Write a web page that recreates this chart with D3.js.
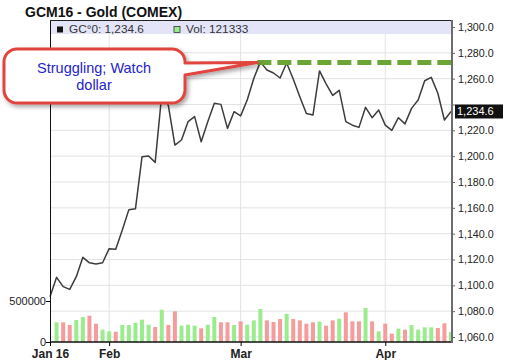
<!DOCTYPE html>
<html>
<head>
<meta charset="utf-8">
<script src="https://cdn.jsdelivr.net/npm/d3@7"></script>
<style>
  body { margin: 0; background: #fff; }
  svg { display: block; font-family: "Liberation Sans", Arial, sans-serif; }
</style>
</head>
<body>
<div id="chart"></div>
<script>
// trading days, Jan 19 - Apr 15 2016
const dates = [
  "2016-01-19","2016-01-20","2016-01-21","2016-01-22","2016-01-25","2016-01-26","2016-01-27","2016-01-28","2016-01-29",
  "2016-02-01","2016-02-02","2016-02-03","2016-02-04","2016-02-05","2016-02-08","2016-02-09","2016-02-10","2016-02-11",
  "2016-02-12","2016-02-16","2016-02-17","2016-02-18","2016-02-19","2016-02-22","2016-02-23","2016-02-24","2016-02-25",
  "2016-02-26","2016-02-29",
  "2016-03-01","2016-03-02","2016-03-03","2016-03-04","2016-03-07","2016-03-08","2016-03-09","2016-03-10","2016-03-11",
  "2016-03-14","2016-03-15","2016-03-16","2016-03-17","2016-03-18","2016-03-21","2016-03-22","2016-03-23","2016-03-24",
  "2016-03-28","2016-03-29","2016-03-30","2016-03-31",
  "2016-04-01","2016-04-04","2016-04-05","2016-04-06","2016-04-07","2016-04-08","2016-04-11","2016-04-12","2016-04-13",
  "2016-04-14","2016-04-15"
];
const closes = [
  1091.2, 1106.2, 1099.0, 1096.9, 1106.7, 1121.7, 1117.4, 1116.6, 1117.5,
  1128.4, 1127.9, 1142.8, 1158.6, 1159.2, 1199.6, 1200.1, 1195.2, 1247.8,
  1239.4, 1208.6, 1212.5, 1226.7, 1230.6, 1211.2, 1226.7, 1240.9, 1240.1,
  1221.5, 1234.4,
  1231.2, 1243.5, 1260.2, 1273.0, 1266.7, 1264.4, 1260.5, 1272.1, 1259.8,
  1246.0, 1233.0, 1231.8, 1266.0, 1256.0, 1247.0, 1251.0, 1226.7, 1224.0,
  1222.3, 1237.8, 1229.8, 1235.7,
  1224.0, 1220.0, 1229.8, 1225.0, 1237.0, 1243.5, 1258.4, 1261.0, 1248.7,
  1228.0, 1234.6
];
const volumes = [
  null, 240000, 240000, 207000, 268000, 305000, 320000, 223000, 150000,
  130000, 126000, 207000, 207000, 235000, 272000, 211000, 183000, 394000,
  207000, 374000, 199000, 211000, 199000, 167000, 211000, 305000, 240000,
  240000, 207000,
  252000, 211000, 264000, 402000, 264000, 244000, 280000, 345000, 280000,
  264000, 223000, 240000, 248000, 199000, 264000, 284000, 362000, 252000,
  252000, 415000, 252000, 130000,
  224000, 102000, 163000, 150000, 207000, 150000, 179000, 179000, 171000,
  228000, 121333
];
const priceTicks = [1060, 1080, 1100, 1120, 1140, 1160, 1180, 1200, 1220, 1240, 1260, 1280, 1300];
const volumeTicks = [0, 500000];
const monthTicks = ["2016-01-19", "2016-02-01", "2016-03-01", "2016-04-01"];
const monthLabels = ["Jan 16", "Feb", "Mar", "Apr"];
const resistanceLevel = 1272.5;
const resistanceStart = "2016-03-04";
const noteLines = ["Struggling; Watch", "dollar"];

const width = 509, height = 360;
const plot = {left: 50, right: 452, top: 20, bottom: 342};
const upColor = '#9bec8f', downColor = '#f59c9c';

const svg = d3.select('#chart').append('svg')
    .attr('width', width)
    .attr('height', height);

const x = d3.scalePoint().domain(dates).range([plot.left, 451]);
const y = d3.scaleLinear().domain([1060, 1300]).range([337, 27]);
const yVol = d3.scaleLinear().domain([0, 500000]).range([plot.bottom, 301]);
const last = closes.length - 1;

// title
svg.append('text')
    .attr('x', 25).attr('y', 17)
    .attr('font-size', 14).attr('font-weight', 'bold').attr('fill', '#111')
    .text('GCM16 - Gold (COMEX)');

// grid
svg.append('g').selectAll('line.h')
    .data(priceTicks)
  .join('line')
    .attr('x1', plot.left).attr('x2', plot.right)
    .attr('y1', d => y(d)).attr('y2', d => y(d))
    .attr('stroke', '#e3e3e3');

svg.append('g').selectAll('line.v')
    .data(monthTicks.slice(1))
  .join('line')
    .attr('x1', d => x(d)).attr('x2', d => x(d))
    .attr('y1', 34).attr('y2', plot.bottom)
    .attr('stroke', '#e3e3e3');

// legend band
svg.append('rect')
    .attr('x', plot.left + 1).attr('y', plot.top + 1)
    .attr('width', plot.right - plot.left - 2).attr('height', 13)
    .attr('fill', '#e4e4f9');

// volume bars
svg.append('g').selectAll('rect')
    .data(volumes.map((v, i) => ({date: dates[i], v, up: i > 0 && closes[i] >= closes[i - 1]})).filter(d => d.v !== null))
  .join('rect')
    .attr('x', d => x(d.date) - 2)
    .attr('width', 4)
    .attr('y', d => yVol(d.v))
    .attr('height', d => plot.bottom - yVol(d.v))
    .attr('fill', d => d.up ? upColor : downColor);

// price line
const line = d3.line()
    .x((d, i) => x(dates[i]))
    .y(d => y(d));

svg.append('path')
    .datum(closes)
    .attr('fill', 'none')
    .attr('stroke', '#3c3c3c')
    .attr('stroke-width', 1.5)
    .attr('stroke-linejoin', 'round')
    .attr('d', line);

// resistance dashes
svg.append('line')
    .attr('x1', x(resistanceStart) - 3).attr('x2', plot.right - 1)
    .attr('y1', y(resistanceLevel)).attr('y2', y(resistanceLevel))
    .attr('stroke', '#6aa536')
    .attr('stroke-width', 5)
    .attr('stroke-dasharray', '14,6');

// axes
const rightAxis = svg.append('g')
    .attr('transform', `translate(${plot.right},0)`)
    .call(d3.axisRight(y).tickValues(priceTicks).tickFormat(d3.format(',.1f')).tickSize(3).tickPadding(3));
rightAxis.select('.domain').remove();
rightAxis.selectAll('line').attr('stroke', '#666');
rightAxis.selectAll('text').attr('font-size', 10.7).attr('fill', '#222').attr('font-family', null);
// the last-price tag hides the tick label it sits on
rightAxis.selectAll('.tick text')
    .filter(d => Math.abs(y(d) - y(closes[last])) < 12)
    .remove();

const leftAxis = svg.append('g')
    .attr('transform', `translate(${plot.left},0)`)
    .call(d3.axisLeft(yVol).tickValues(volumeTicks).tickFormat(d3.format('d')).tickSize(4).tickPadding(0));
leftAxis.select('.domain').remove();
leftAxis.selectAll('text').attr('font-size', 11).attr('fill', '#222').attr('font-family', null);

const bottomAxis = svg.append('g')
    .attr('transform', `translate(0,${plot.bottom})`)
    .call(d3.axisBottom(x).tickValues(monthTicks).tickFormat((d, i) => monthLabels[i]).tickSize(4).tickPadding(3));
bottomAxis.select('.domain').remove();
bottomAxis.selectAll('text').attr('font-size', 12).attr('font-weight', 'bold').attr('fill', '#222').attr('font-family', null);

// frame
svg.append('line')
    .attr('x1', plot.left).attr('x2', plot.right)
    .attr('y1', plot.top + 0.5).attr('y2', plot.top + 0.5)
    .attr('stroke', '#222');
svg.append('line')
    .attr('x1', plot.left).attr('x2', plot.right)
    .attr('y1', plot.bottom).attr('y2', plot.bottom)
    .attr('stroke', '#111').attr('stroke-width', 1.5);
svg.append('line')
    .attr('x1', plot.left + 0.5).attr('x2', plot.left + 0.5)
    .attr('y1', plot.top).attr('y2', plot.bottom)
    .attr('stroke', '#111');
svg.append('line')
    .attr('x1', plot.right).attr('x2', plot.right)
    .attr('y1', plot.top).attr('y2', plot.bottom + 1)
    .attr('stroke', '#6d6d6d').attr('stroke-width', 2);

// legend
svg.append('rect').attr('x', 57).attr('y', 26.5).attr('width', 6).attr('height', 6).attr('fill', '#111');
svg.append('text')
    .attr('x', 69).attr('y', 32.5)
    .attr('font-size', 11.8).attr('fill', '#333')
    .text(`GC°0: ${d3.format(',.1f')(closes[last])}`);
svg.append('rect').attr('x', 174).attr('y', 26.5).attr('width', 6).attr('height', 6)
    .attr('fill', upColor).attr('stroke', '#333').attr('stroke-width', 0.8);
svg.append('text')
    .attr('x', 186).attr('y', 32.5)
    .attr('font-size', 11.8).attr('fill', '#333')
    .text(`Vol: ${volumes[last]}`);

// last price tag
svg.append('rect')
    .attr('x', 455).attr('y', y(closes[last]) - 7)
    .attr('width', 48).attr('height', 14)
    .attr('fill', '#111');
svg.append('text')
    .attr('x', 457).attr('y', y(closes[last]))
    .attr('dy', '0.35em')
    .attr('font-size', 11).attr('fill', '#fff')
    .text(d3.format(',.1f')(closes[last]));

// callout
const defs = svg.append('defs');
defs.append('filter').attr('id', 'shadow')
    .attr('x', '-10%').attr('y', '-20%').attr('width', '130%').attr('height', '160%')
  .append('feDropShadow')
    .attr('dx', 2).attr('dy', 2.5).attr('stdDeviation', 2)
    .attr('flood-color', '#000').attr('flood-opacity', 0.35);

const box = {x: 4, y: 49, w: 181, h: 54, r: 13};
const tip = [x(resistanceStart) - 3, y(resistanceLevel)];
const bx = box.x, by = box.y, bw = box.w, bh = box.h, r = box.r;
const callout = `M${bx + r},${by} H${bx + bw - r} A${r},${r} 0 0 1 ${bx + bw},${by + r}
  V63 L${tip[0]},${tip[1]} L${bx + bw},75
  V${by + bh - r} A${r},${r} 0 0 1 ${bx + bw - r},${by + bh}
  H${bx + r} A${r},${r} 0 0 1 ${bx},${by + bh - r}
  V${by + r} A${r},${r} 0 0 1 ${bx + r},${by} Z`;

svg.append('path')
    .attr('d', callout)
    .attr('fill', '#fff')
    .attr('stroke', '#e0443f')
    .attr('stroke-width', 3)
    .attr('stroke-linejoin', 'round')
    .attr('filter', 'url(#shadow)');

svg.append('g').selectAll('text')
    .data(noteLines)
  .join('text')
    .attr('x', 94)
    .attr('y', (d, i) => 73 + i * 16.5)
    .attr('text-anchor', 'middle')
    .attr('font-size', 14.5)
    .attr('fill', '#2424cc')
    .text(d => d);
</script>
</body>
</html>
